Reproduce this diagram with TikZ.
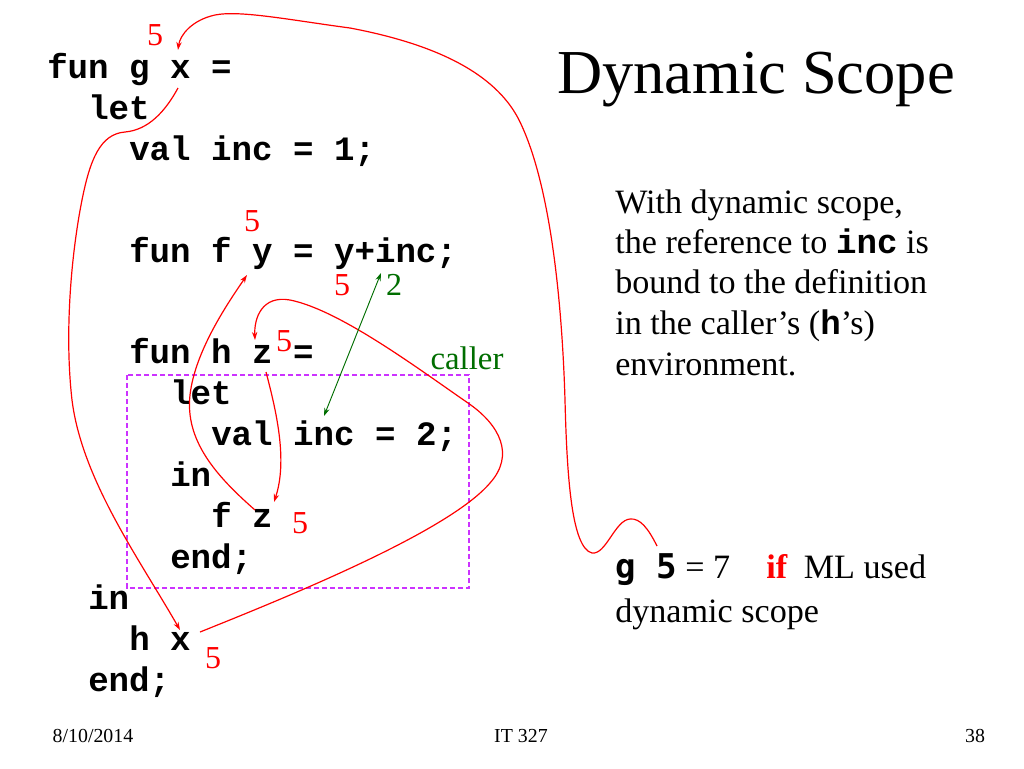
\documentclass[tikz,border=0pt]{standalone}
\usepackage{fontspec}
\setmainfont{Liberation Serif}
\setmonofont{Liberation Mono}
\newfontfamily\lucida{DejaVu Sans Mono}
\usetikzlibrary{arrows.meta}
\definecolor{callergreen}{RGB}{0,110,0}
\definecolor{boxviolet}{RGB}{204,51,255}
\begin{document}
\begin{tikzpicture}[x=0.75pt,y=-0.75pt,
    code/.style={anchor=base west,inner sep=0pt,font=\fontsize{25.6}{30}\selectfont\ttfamily\bfseries},
    txt/.style={anchor=base west,inner sep=0pt,font=\fontsize{25.6}{30}\selectfont},
    num/.style={inner sep=0pt,text=red,font=\fontsize{24}{28}\selectfont},
    foot/.style={anchor=base,inner sep=0pt,font=\fontsize{14.9}{17}\selectfont},
    link/.style={red,line width=0.9pt,-{Stealth[length=6pt,width=4pt]}}]
  \fill[white] (0,0) rectangle (1024,768);
  \useasboundingbox (0,0) rectangle (1024,768);
  % program text
  \node[code] (gdef) at (47,78) {fun g x =};
  \node[code] (let1) at (88,119) {let};
  \node[code] (inc1) at (129,160) {val inc = 1;};
  \node[code] (fdef) at (129,262) {fun f y = y+inc;};
  \node[code] (hdef) at (129,363) {fun h z =};
  \node[code] (let2) at (170,404) {let};
  \node[code] (inc2) at (211,445) {val inc = 2;};
  \node[code] (in2) at (170,486) {in};
  \node[code] (fcall) at (211,527) {f z};
  \node[code] (end2) at (170,568) {end;};
  \node[code] (in1) at (88,609) {in};
  \node[code] (hcall) at (129,650) {h x};
  \node[code] (end1) at (88,691) {end;};
  \draw[boxviolet,line width=1pt,dash pattern=on 4pt off 2pt] (127,375) rectangle (469,588);
  % title and remarks
  \node[anchor=base west,inner sep=0pt,font=\fontsize{46.9}{50}\selectfont] (title) at (557,93) {Dynamic Scope};
  \node[txt] (rem1) at (615,213) {With dynamic scope,};
  \node[txt] (rem2) at (615,253) {the reference to \texttt{\bfseries inc} is};
  \node[txt] (rem3) at (615,293) {bound to the definition};
  \node[txt] (rem4) at (615,334) {in the caller’s (\texttt{\bfseries h}’s)};
  \node[txt] (rem5) at (615,375) {environment.};
  \node[txt] (g5) at (615,578) {{\lucida\bfseries g 5} = 7\hspace{27pt}{\color{red}\bfseries if}\hspace{12.5pt}ML used};
  \node[txt] (g5b) at (615,622) {dynamic scope};
  % values passed
  \node[num] (v1) at (155,35) {5};
  \node[num] (v2) at (252,221) {5};
  \node[num] (v3) at (342,285) {5};
  \node[num] (v4) at (284,341) {5};
  \node[num] (v5) at (300,523) {5};
  \node[num] (v6) at (213,658) {5};
  \node[num,text=callergreen] (v7) at (394,285) {2};
  \node[inner sep=0pt,text=callergreen,font=\fontsize{24.6}{28}\selectfont] (caller) at (467,358) {caller};
  % footer
  \node[foot] (date) at (93,742) {8/10/2014};
  \node[foot] (course) at (521,742) {IT 327};
  \node[foot] (page) at (975,742) {38};
  % where the arrows start and end
  \coordinate (gcall) at (657,546);
  \coordinate (gxin) at (178,50);
  \coordinate (gxout) at (178,88);
  \coordinate (hxin) at (180,630);
  \coordinate (hxout) at (200,632);
  \coordinate (hzin) at (255,340);
  \coordinate (hzout) at (266,372);
  \coordinate (fzin) at (274,502);
  \coordinate (fzout) at (255,510);
  \coordinate (fyin) at (247,275);
  \coordinate (incuse) at (381,273);
  \coordinate (incdef) at (324,416);
  \draw[link] (gcall) .. controls (648,528) and (640,518) .. (630,519)
    .. controls (615,520) and (606,555) .. (592,553)
    .. controls (572,548) and (567,480) .. (565,400)
    .. controls (562,300) and (550,180) .. (518,118)
    .. controls (495,75) and (440,45) .. (350,28)
    .. controls (290,20) and (240,10) .. (215,15)
    .. controls (192,20) and (180,35) .. (gxin);
  \draw[link] (gxout) .. controls (165,112) and (148,130) .. (125,132)
    .. controls (100,134) and (90,160) .. (82,200)
    .. controls (72,250) and (64,330) .. (72,400)
    .. controls (82,480) and (140,560) .. (hxin);
  \draw[link] (hxout) .. controls (300,592) and (450,530) .. (490,483)
    .. controls (515,455) and (500,425) .. (468,403)
    .. controls (420,370) and (340,310) .. (290,300)
    .. controls (262,295) and (254,318) .. (hzin);
  \draw[link] (hzout) .. controls (276,410) and (288,460) .. (fzin);
  \draw[link] (fzout) .. controls (215,475) and (185,440) .. (190,395)
    .. controls (195,350) and (230,300) .. (fyin);
  \draw[callergreen,line width=0.7pt,{Stealth[length=6pt,width=4pt]}-{Stealth[length=6pt,width=4pt]}] (incuse) -- (incdef);
\end{tikzpicture}
\end{document}
